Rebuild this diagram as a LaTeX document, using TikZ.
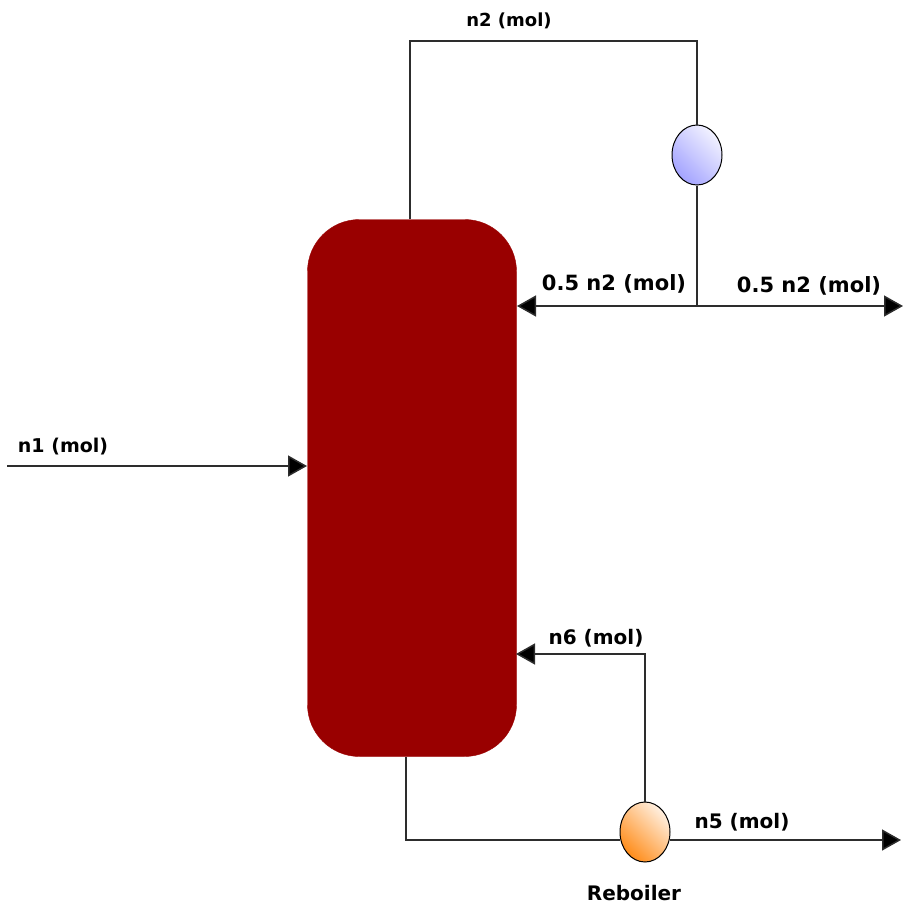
\documentclass[tikz,border=0pt]{standalone}
\usepackage{fontspec}
\setmainfont{DejaVu Sans}
\usetikzlibrary{arrows.meta, shapes.geometric}
\definecolor{columnred}{RGB}{153, 0, 0}
\definecolor{pipegray}{RGB}{45, 45, 45}
\begin{document}
\begin{tikzpicture}[
  x=1pt, y=-1pt,
  column/.style={draw=columnred, fill=columnred, rounded corners=52pt, minimum width=209pt, minimum height=537pt, inner sep=0pt},
  vessel/.style={ellipse, draw=black, line width=1pt, minimum width=50pt, minimum height=60pt, inner sep=0pt},
  pipe/.style={draw=pipegray, line width=1.5pt},
  flow/.style={pipe, -{Triangle[length=19pt, width=21pt, fill=black]}},
  stream/.style={font=\fontsize{#1}{24}\selectfont\bfseries, text=black, inner sep=0pt},
  stream/.default=19
]
  \useasboundingbox (0, 0) rectangle (903, 905);
  \node[column] (tower) at (412, 488) {};
  \node[vessel, left color=white!55!blue!80, right color=white!95!blue, shading angle=135] (condenser) at (697, 155) {};
  \node[vessel, left color=orange!90!white, right color=orange!12!white, shading angle=135] (reboiler) at (645, 832) {};
  \coordinate (topleft) at (410, 41);
  \coordinate (topright) at (697, 41);
  \coordinate (split) at (697, 306);
  \coordinate (refluxin) at (517, 306);
  \coordinate (distout) at (903, 306);
  \coordinate (feedstart) at (7, 466);
  \coordinate (feedin) at (307, 466);
  \coordinate (boilcorner) at (645, 654);
  \coordinate (boilin) at (516, 654);
  \coordinate (bottomout) at (406, 757);
  \coordinate (bottomcorner) at (406, 840);
  \coordinate (reboilin) at (620, 840);
  \coordinate (reboilout) at (670, 840);
  \coordinate (prodout) at (901, 840);
  % top loop
  \draw[pipe] (tower.north -| topleft) -- (topleft) -- (topright) -- (condenser.north);
  \draw[pipe] (condenser.south) -- (split);
  \draw[flow] (split) -- (refluxin);
  \draw[flow] (split) -- (distout);
  % feed
  \draw[flow] (feedstart) -- (feedin);
  % bottom loop
  \draw[pipe] (bottomout) -- (bottomcorner) -- (reboilin);
  \draw[flow] (reboiler.north) -- (boilcorner) -- (boilin);
  \draw[flow] (reboilout) -- (prodout);
  \node[stream=18] (n2label) at (509, 21) {n2 (mol)};
  \node[stream=21] (refluxlabel) at (614, 284) {0.5 n2 (mol)};
  \node[stream=21] (distlabel) at (809, 286) {0.5 n2 (mol)};
  \node[stream] (n1label) at (63, 447) {n1 (mol)};
  \node[stream=20] (n6label) at (596, 638) {n6 (mol)};
  \node[stream=20] (n5label) at (742, 822) {n5 (mol)};
  \node[stream=20] (reboilerlabel) at (634, 893) {Reboiler};
\end{tikzpicture}
\end{document}
